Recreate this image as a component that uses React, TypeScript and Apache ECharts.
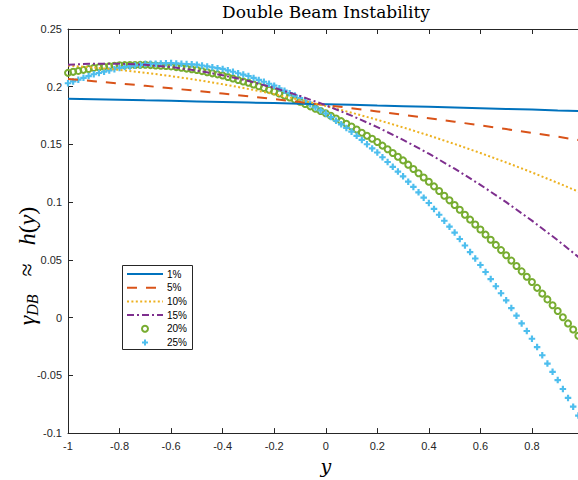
import React, { useEffect, useRef } from "react";
import * as echarts from "echarts";

// x positions of the smooth-line samples
const xLine = [-1, -0.9, -0.8, -0.7, -0.6, -0.5, -0.4, -0.3, -0.2, -0.1, 0, 0.1, 0.2, 0.3, 0.4, 0.5, 0.6, 0.7, 0.8, 0.9, 1];

const s1 = [0.1895, 0.1891, 0.1887, 0.1882, 0.1878, 0.1873, 0.1868, 0.1863, 0.1858, 0.1853, 0.1848, 0.1843, 0.1837, 0.1832, 0.1826, 0.182, 0.1814, 0.1808, 0.1802, 0.1795, 0.1789];
const s5 = [0.2067, 0.2048, 0.2028, 0.2008, 0.1986, 0.1964, 0.1941, 0.1917, 0.1893, 0.1867, 0.1841, 0.1814, 0.1786, 0.1757, 0.1727, 0.1697, 0.1665, 0.1633, 0.16, 0.1567, 0.1532];
const s10 = [0.2183, 0.2166, 0.2146, 0.2121, 0.2092, 0.2059, 0.2022, 0.1981, 0.1936, 0.1886, 0.1833, 0.1775, 0.1714, 0.1648, 0.1578, 0.1504, 0.1426, 0.1344, 0.1258, 0.1167, 0.1073];
const s15 = [0.219, 0.22, 0.22, 0.219, 0.217, 0.214, 0.21, 0.205, 0.199, 0.192, 0.184, 0.175, 0.165, 0.154, 0.142, 0.129, 0.115, 0.1, 0.084, 0.067, 0.049];

// x positions of the markers
const xMark = [
  -1, -0.98, -0.96, -0.94, -0.92, -0.9, -0.88, -0.86, -0.84, -0.82,
  -0.8, -0.78, -0.76, -0.74, -0.72, -0.7, -0.68, -0.66, -0.64, -0.62,
  -0.6, -0.58, -0.56, -0.54, -0.52, -0.5, -0.48, -0.46, -0.44, -0.42,
  -0.4, -0.38, -0.36, -0.34, -0.32, -0.3, -0.28, -0.26, -0.24, -0.22,
  -0.2, -0.18, -0.16, -0.14, -0.12, -0.1, -0.08, -0.06, -0.04, -0.02,
  0, 0.02, 0.04, 0.06, 0.08, 0.1, 0.12, 0.14, 0.16, 0.18,
  0.2, 0.22, 0.24, 0.26, 0.28, 0.3, 0.32, 0.34, 0.36, 0.38,
  0.4, 0.42, 0.44, 0.46, 0.48, 0.5, 0.52, 0.54, 0.56, 0.58,
  0.6, 0.62, 0.64, 0.66, 0.68, 0.7, 0.72, 0.74, 0.76, 0.78,
  0.8, 0.82, 0.84, 0.86, 0.88, 0.9, 0.92, 0.94, 0.96, 0.98,
  1,
];

const s20 = [
  0.212, 0.2129, 0.2137, 0.2146, 0.2154, 0.2163, 0.2168, 0.2172, 0.2177, 0.2181,
  0.2186, 0.2187, 0.2188, 0.2188, 0.2189, 0.219, 0.2187, 0.2184, 0.2182, 0.2179,
  0.2176, 0.217, 0.2164, 0.2157, 0.2151, 0.2145, 0.2135, 0.2126, 0.2116, 0.2107,
  0.2097, 0.2084, 0.2072, 0.2059, 0.2046, 0.2034, 0.2019, 0.2004, 0.1989, 0.1974,
  0.1959, 0.1941, 0.1923, 0.1906, 0.1888, 0.187, 0.185, 0.183, 0.181, 0.179,
  0.1771, 0.1748, 0.1725, 0.1702, 0.1679, 0.1656, 0.1629, 0.1602, 0.1576, 0.1549,
  0.1522, 0.149, 0.1458, 0.1426, 0.1394, 0.1362, 0.1325, 0.1288, 0.1251, 0.1214,
  0.1177, 0.1137, 0.1097, 0.1056, 0.1016, 0.0976, 0.0934, 0.0891, 0.0849, 0.0806,
  0.0764, 0.0719, 0.0674, 0.063, 0.0585, 0.054, 0.0494, 0.0447, 0.0401, 0.0354,
  0.0308, 0.0258, 0.0208, 0.0158, 0.0108, 0.0058, 0.0004, -0.005, -0.0103, -0.0157,
  -0.0211,
];

const s25 = [
  0.203, 0.2046, 0.2061, 0.2077, 0.2092, 0.2108, 0.2119, 0.213, 0.2141, 0.2152,
  0.2163, 0.217, 0.2176, 0.2183, 0.2189, 0.2196, 0.2198, 0.22, 0.2201, 0.2203,
  0.2205, 0.2202, 0.2199, 0.2197, 0.2194, 0.2191, 0.2184, 0.2176, 0.2169, 0.2161,
  0.2154, 0.2142, 0.213, 0.2117, 0.2105, 0.2093, 0.2076, 0.2059, 0.2043, 0.2026,
  0.2009, 0.1987, 0.1966, 0.1944, 0.1923, 0.1901, 0.1874, 0.1848, 0.1821, 0.1795,
  0.1768, 0.1737, 0.1705, 0.1674, 0.1643, 0.1611, 0.1575, 0.1539, 0.1502, 0.1466,
  0.143, 0.1389, 0.1348, 0.1306, 0.1265, 0.1224, 0.1178, 0.1132, 0.1085, 0.1039,
  0.0993, 0.0942, 0.0891, 0.0839, 0.0788, 0.0737, 0.0681, 0.0625, 0.0568, 0.0512,
  0.0456, 0.0395, 0.0334, 0.0272, 0.0211, 0.015, 0.0083, 0.0017, -0.005, -0.0116,
  -0.0183, -0.0255, -0.0326, -0.0398, -0.0469, -0.0541, -0.0618, -0.0695, -0.0771, -0.0848,
  -0.0925,
];

const legendNames = ["1%", "5%", "10%", "15%", "20%", "25%"];
const colors = ["#0072BD", "#D95319", "#EDB120", "#7E2F8E", "#77AC30", "#4DBEEE"];

const AXIS = "#262626";
const PLUS = "path://M2,0H4V2H6V4H4V6H2V4H0V2H2Z";

const zip = (xs: number[], ys: number[]) => xs.map((x, i) => [x, ys[i]]);

function buildLegend() {
  const rowY = [274, 287.7, 301.4, 315.1, 328.8, 342.5];
  const x1 = 127;
  const x2 = 163;
  const children: any[] = [
    {
      type: "rect",
      shape: { x: 122.5, y: 265.5, width: 70, height: 84 },
      style: { fill: "#fff", stroke: AXIS, lineWidth: 1 },
    },
  ];
  const lineDashes: any[] = [null, [10, 9], [2, 2.4], [7, 3, 2, 3]];
  for (let i = 0; i < 4; i++) {
    children.push({
      type: "polyline",
      shape: { points: [[x1, rowY[i]], [x2, rowY[i]]] },
      style: { stroke: colors[i], lineWidth: 2, lineDash: lineDashes[i] || undefined, fill: null },
    });
  }
  children.push({
    type: "circle",
    shape: { cx: 145, cy: rowY[4], r: 3 },
    style: { fill: null, stroke: colors[4], lineWidth: 2 },
  });
  const cy = rowY[5];
  children.push({
    type: "polygon",
    shape: {
      points: [
        [144, cy - 3], [146, cy - 3], [146, cy - 1], [148, cy - 1], [148, cy + 1], [146, cy + 1],
        [146, cy + 3], [144, cy + 3], [144, cy + 1], [142, cy + 1], [142, cy - 1], [144, cy - 1],
      ],
    },
    style: { fill: colors[5] },
  });
  legendNames.forEach((n, i) => {
    children.push({
      type: "text",
      x: 167,
      y: rowY[i],
      style: {
        text: n,
        fill: "#000",
        fontFamily: "Liberation Sans",
        fontSize: 10,
        verticalAlign: "middle",
        align: "left",
      },
    });
  });
  return { type: "group", z: 100, children };
}

export default function App() {
  const ref = useRef<HTMLDivElement>(null);
  useEffect(() => {
    if (!ref.current) return;
    const chart = echarts.init(ref.current, null, { renderer: "svg" });
    const axisCommon = {
      type: "value",
      axisLine: { show: true, onZero: false, lineStyle: { color: AXIS, width: 1 } },
      axisTick: { show: true, inside: true, length: 5, lineStyle: { color: AXIS, width: 1 } },
      splitLine: { show: false },
    };
    const labelStyle = { color: AXIS, fontSize: 11, fontFamily: "Liberation Sans" };
    const option: any = {
      animation: false,
      backgroundColor: "#fff",
      title: {
        text: "Double Beam Instability",
        left: 326,
        top: 0,
        textAlign: "center",
        padding: [3, 0, 0, 0],
        textStyle: { fontFamily: "DejaVu Serif", fontSize: 17, fontWeight: "normal", color: "#000" },
      },
      grid: { left: 68, right: 16.5, top: 29, bottom: 44 },
      xAxis: [
        {
          ...axisCommon,
          position: "bottom",
          min: -1,
          max: 1,
          interval: 0.2,
          axisLabel: { ...labelStyle, margin: 7, showMaxLabel: false },
          name: "y",
          nameLocation: "middle",
          nameGap: 20,
          nameTextStyle: { fontFamily: "DejaVu Serif", fontStyle: "italic", fontSize: 19, color: "#000" },
        },
        {
          ...axisCommon,
          position: "top",
          min: -1,
          max: 1,
          interval: 0.2,
          axisLabel: { show: false },
        },
      ],
      yAxis: [
        {
          ...axisCommon,
          position: "left",
          min: -0.1,
          max: 0.25,
          interval: 0.05,
          axisLabel: { ...labelStyle, margin: 6 },
        },
        {
          ...axisCommon,
          position: "right",
          min: -0.1,
          max: 0.25,
          interval: 0.05,
          axisLabel: { show: false },
        },
      ],
      graphic: [
        {
          type: "text",
          x: 27,
          y: 266,
          rotation: Math.PI / 2,
          style: {
            text: "{g|γ}{s|DB}{r|   ≈   }{g|h}{r|(}{g|y}{r|)}",
            align: "center",
            verticalAlign: "middle",
            fill: "#000",
            rich: {
              g: { fontFamily: "Liberation Serif", fontStyle: "italic", fontSize: 24, lineHeight: 26, fill: "#000" },
              s: { fontFamily: "Liberation Serif", fontStyle: "italic", fontSize: 16, lineHeight: 26, verticalAlign: "bottom", fill: "#000" },
              r: { fontFamily: "Liberation Serif", fontSize: 24, lineHeight: 26, fill: "#000" },
            },
          },
        },
        buildLegend(),
      ],
      series: [
        { name: "1%", type: "line", data: zip(xLine, s1), symbol: "none", clip: false, lineStyle: { color: colors[0], width: 2, type: "solid" } },
        { name: "5%", type: "line", data: zip(xLine, s5), symbol: "none", clip: false, lineStyle: { color: colors[1], width: 2, type: [10, 9] } },
        { name: "10%", type: "line", data: zip(xLine, s10), symbol: "none", clip: false, lineStyle: { color: colors[2], width: 2, type: [2, 2.4] } },
        { name: "15%", type: "line", data: zip(xLine, s15), symbol: "none", clip: false, lineStyle: { color: colors[3], width: 2, type: [7, 3, 2, 3] } },
        {
          name: "20%",
          type: "scatter",
          data: zip(xMark, s20),
          symbol: "circle",
          symbolSize: 6,
          clip: false,
          itemStyle: { color: "rgba(0,0,0,0)", borderColor: colors[4], borderWidth: 2, opacity: 1 },
        },
        {
          name: "25%",
          type: "scatter",
          data: zip(xMark, s25),
          symbol: PLUS,
          symbolSize: 6.5,
          clip: false,
          itemStyle: { color: colors[5], opacity: 1 },
        },
      ],
    };
    chart.setOption(option);
    return () => chart.dispose();
  }, []);
  return (
    <div style={{ position: "absolute", left: 0, top: 0, width: 578, height: 480, overflow: "hidden", background: "#fff" }}>
      <div ref={ref} style={{ width: 600, height: 480 }} />
    </div>
  );
}
